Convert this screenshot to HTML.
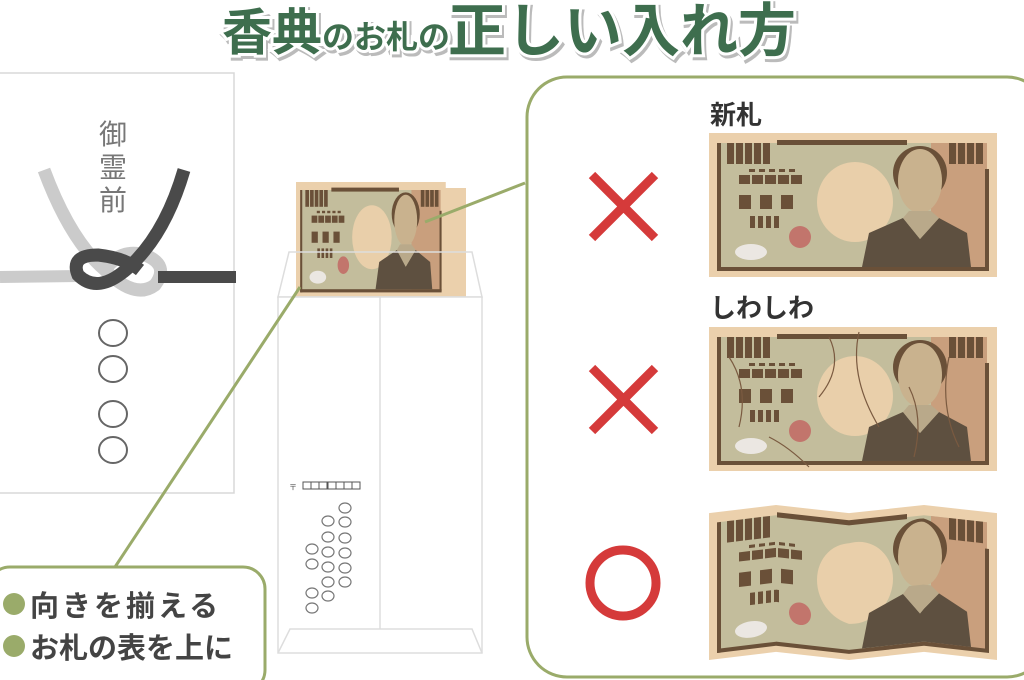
<!DOCTYPE html>
<html><head><meta charset="utf-8"><style>
html,body{margin:0;padding:0;background:#fff;}
svg{display:block;}
text{font-family:"Liberation Sans","Noto Sans CJK JP",sans-serif;}
</style></head><body>
<svg width="1024" height="680" viewBox="0 0 1024 680" xmlns="http://www.w3.org/2000/svg">
<defs>
<g id="bill">
  <rect x="0" y="0" width="288" height="144" fill="#ebd0ac"/>
  <rect x="10" y="10" width="268" height="126" fill="#c3bd9c"/>
  <rect x="222" y="10" width="56" height="126" fill="#c99f7d"/>
  <rect x="8" y="10" width="4" height="128" fill="#6a5038"/>
  <rect x="8" y="134" width="272" height="4" fill="#6a5038"/>
  <rect x="276" y="36" width="4" height="100" fill="#6a5038"/>
  <rect x="68" y="7" width="130" height="5" fill="#6a5038"/>
  <g fill="#6a5038">
    <rect x="18" y="10" width="7" height="21"/><rect x="27" y="10" width="7" height="21"/><rect x="36" y="10" width="7" height="21"/><rect x="45" y="10" width="7" height="21"/><rect x="54" y="10" width="7" height="21"/>
    <rect x="240" y="10" width="7" height="21"/><rect x="249" y="10" width="7" height="21"/><rect x="258" y="10" width="7" height="21"/><rect x="267" y="10" width="7" height="21"/>
    <rect x="40" y="36" width="6" height="3"/><rect x="50" y="36" width="6" height="3"/><rect x="60" y="36" width="6" height="3"/><rect x="70" y="36" width="6" height="3"/><rect x="80" y="36" width="6" height="3"/>
    <rect x="30" y="42" width="11" height="9"/><rect x="43" y="42" width="11" height="9"/><rect x="56" y="42" width="11" height="9"/><rect x="69" y="42" width="11" height="9"/><rect x="82" y="42" width="11" height="9"/>
    <rect x="30" y="62" width="12" height="14"/><rect x="51" y="62" width="12" height="14"/><rect x="72" y="62" width="12" height="14"/>
    <rect x="41" y="83" width="5" height="12"/><rect x="49" y="83" width="5" height="12"/><rect x="57" y="83" width="5" height="12"/><rect x="65" y="83" width="5" height="12"/>
  </g>
  <ellipse cx="146" cy="69" rx="38" ry="40" fill="#e9cfaa"/>
  <circle cx="91" cy="104" r="11" fill="#c2756c"/>
  <ellipse cx="42" cy="119" rx="16" ry="8" fill="#ebe7e2"/>
  <circle cx="211" cy="40" r="27" fill="#6a5038"/>
  <ellipse cx="211" cy="48" rx="22" ry="32" fill="#c9b28e"/>
  <path d="M153 134 L160 100 L194 85 L211 106 L230 85 L258 100 L262 134 Z" fill="#5e5040"/>
  <path d="M194 85 L211 106 L230 85 L222 78 L200 78 Z" fill="#b9a98a"/>
</g>
<clipPath id="p1"><rect x="0" y="-10" width="67" height="170"/></clipPath>
<clipPath id="p2"><rect x="67" y="-10" width="73" height="170"/></clipPath>
<clipPath id="p3"><rect x="140" y="-10" width="75" height="170"/></clipPath>
<clipPath id="p4"><rect x="215" y="-10" width="73" height="170"/></clipPath>
</defs>

<!-- title -->
<g font-weight="bold" fill="#3e6e4e" stroke="#fff" stroke-width="6" paint-order="stroke" style="filter:drop-shadow(2px 3px 0 #bbb)">
  <text x="222" y="50" font-size="50">香典</text>
  <text x="322" y="48" font-size="32">のお札の</text>
  <text x="448" y="51" font-size="58">正しい入れ方</text>
</g>

<!-- noshi -->
<rect x="-5" y="73" width="239" height="420" fill="#fff" stroke="#d8d8d8" stroke-width="1.5"/>
<g font-size="28" fill="#777" text-anchor="middle" font-family="'Noto Serif CJK SC',serif">
<text x="113" y="144">御</text><text x="113" y="177">霊</text><text x="113" y="210">前</text>
</g>
<path d="M0 277 L80 276" stroke="#cbcbcb" stroke-width="12"/>
<path d="M44 170 Q70 240 105 270 Q135 300 155 285 Q170 265 145 255 Q120 248 105 270" fill="none" stroke="#cbcbcb" stroke-width="13"/>
<path d="M184 170 Q165 235 128 268 Q98 295 78 275 Q70 255 98 255 Q125 258 140 270" fill="none" stroke="#4a4a4a" stroke-width="13"/>
<path d="M158 277 L236 277" stroke="#4a4a4a" stroke-width="12"/>
<g fill="none" stroke="#666" stroke-width="2">
  <ellipse cx="113" cy="333" rx="14" ry="13"/><ellipse cx="113" cy="369" rx="14" ry="13"/><ellipse cx="113" cy="414" rx="14" ry="13"/><ellipse cx="113" cy="450" rx="14" ry="13"/>
</g>

<!-- envelope -->
<rect x="318" y="188" width="148" height="110" fill="#ebd0ac"/>
<g transform="translate(296,182) scale(0.52,0.8)"><use href="#bill"/></g>
<path d="M289 252 L472 252 L482 297 L278 297 Z" fill="none" stroke="#ddd" stroke-width="1.5"/>
<rect x="278" y="297" width="204" height="356" fill="#fff" stroke="#ddd" stroke-width="1.5"/>
<line x1="380" y1="297" x2="380" y2="629" stroke="#ddd" stroke-width="1.5"/>
<path d="M278 653 L290 629 L472 629 L482 653" fill="none" stroke="#ddd" stroke-width="1.5"/>
<text x="289" y="490" font-size="8" fill="#555">〒</text>
<g fill="none" stroke="#555" stroke-width="1"><rect x="303" y="482" width="8" height="7"/><rect x="311" y="482" width="8" height="7"/><rect x="319" y="482" width="8" height="7"/><rect x="328" y="482" width="8" height="7"/><rect x="336" y="482" width="8" height="7"/><rect x="344" y="482" width="8" height="7"/><rect x="352" y="482" width="8" height="7"/></g>
<g fill="none" stroke="#777" stroke-width="1.2">
  <ellipse cx="345" cy="508" rx="6" ry="5"/><ellipse cx="345" cy="522" rx="6" ry="5"/><ellipse cx="345" cy="538" rx="6" ry="5"/><ellipse cx="345" cy="553" rx="6" ry="5"/><ellipse cx="345" cy="568" rx="6" ry="5"/><ellipse cx="345" cy="582" rx="6" ry="5"/>
  <ellipse cx="328" cy="521" rx="6" ry="5"/><ellipse cx="328" cy="537" rx="6" ry="5"/><ellipse cx="328" cy="552" rx="6" ry="5"/><ellipse cx="328" cy="567" rx="6" ry="5"/><ellipse cx="328" cy="582" rx="6" ry="5"/><ellipse cx="328" cy="596" rx="6" ry="5"/>
  <ellipse cx="312" cy="549" rx="6" ry="5"/><ellipse cx="312" cy="564" rx="6" ry="5"/><ellipse cx="312" cy="593" rx="6" ry="5"/><ellipse cx="312" cy="608" rx="6" ry="5"/>
</g>

<!-- connectors -->
<line x1="525" y1="183" x2="425" y2="222" stroke="#9aab6a" stroke-width="3"/>
<line x1="300" y1="287" x2="115" y2="567" stroke="#9aab6a" stroke-width="3"/>

<!-- left tag -->
<rect x="-12" y="567" width="277" height="125" rx="22" fill="#fff" stroke="#9aab6a" stroke-width="3"/>
<circle cx="14" cy="604" r="11" fill="#9aab6a"/>
<circle cx="14" cy="646" r="11" fill="#9aab6a"/>
<text x="30" y="616" font-size="29" font-weight="bold" fill="#444" letter-spacing="3">向きを揃える</text>
<text x="30" y="658" font-size="29" font-weight="bold" fill="#444">お札の表を上に</text>

<!-- right panel -->
<rect x="527" y="77" width="520" height="600" rx="40" fill="#fff" stroke="#9aab6a" stroke-width="3"/>
<text x="710" y="124" font-size="26" font-weight="bold" fill="#333">新札</text>
<text x="710" y="317" font-size="26" font-weight="bold" fill="#333">しわしわ</text>
<g stroke="#d53a3a" stroke-width="9" stroke-linecap="butt">
  <line x1="592" y1="175" x2="655" y2="238"/><line x1="655" y1="175" x2="592" y2="238"/>
  <line x1="592" y1="368" x2="655" y2="431"/><line x1="655" y1="368" x2="592" y2="431"/>
</g>
<circle cx="623" cy="583" r="33" fill="none" stroke="#d53a3a" stroke-width="9"/>

<g transform="translate(709,133)"><use href="#bill"/></g>
<g transform="translate(709,327)"><use href="#bill"/>
  <g fill="none" stroke="#7a5a40" stroke-width="1.2">
    <path d="M20 30 Q40 60 30 100"/><path d="M120 10 Q135 40 110 70"/><path d="M150 5 Q140 50 170 100"/><path d="M240 30 Q230 80 250 120"/><path d="M60 110 Q80 120 100 140"/><path d="M200 60 Q215 90 205 130"/>
  </g>
</g>
<g transform="translate(709,505) scale(1,1.02)">
  <g clip-path="url(#p1)" transform="matrix(1,-0.119,0,1,0,8)"><use href="#bill"/></g>
  <g clip-path="url(#p2)" transform="matrix(1,0.1096,0,1,0,-7.34)"><use href="#bill"/></g>
  <g clip-path="url(#p3)" transform="matrix(1,-0.1067,0,1,0,22.93)"><use href="#bill"/></g>
  <g clip-path="url(#p4)" transform="matrix(1,0.1096,0,1,0,-23.56)"><use href="#bill"/></g>
</g>
</svg>
</body></html>
